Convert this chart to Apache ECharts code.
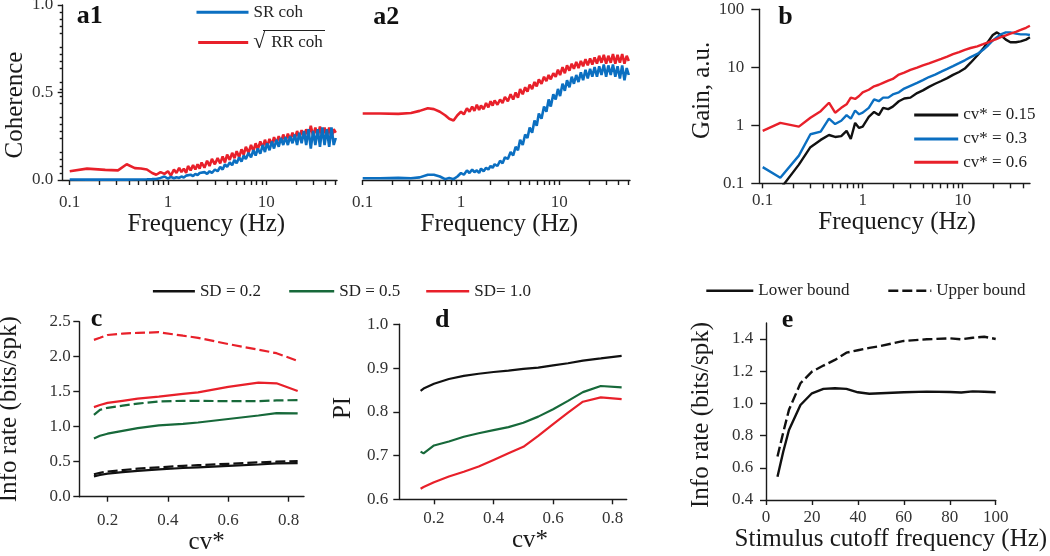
<!DOCTYPE html>
<html><head><meta charset="utf-8">
<script src="https://cdn.jsdelivr.net/npm/echarts@6/dist/echarts.min.js"></script>
<style>html,body{margin:0;padding:0;background:#fff}#chart{width:1050px;height:556px}</style>
</head><body><div id="chart"></div>
<script>
// ---------- DATA ----------
// Panels a1 / a2: coherence vs frequency (Hz)
const freqA = [0.1,0.15,0.23,0.31,0.38,0.46,0.53,0.61,0.69,0.76,
 0.84,0.92,1.0,1.07,1.15,1.22,1.3,1.37,1.45,1.53,
 1.6,1.7,1.8,1.9,2.0,2.1,2.2,2.35,2.5,2.65,
 2.8,3.0,3.2,3.4,3.6,3.8,4.0,4.25,4.5,4.75,
 5.0,5.3,5.6,5.9,6.2,6.6,7.0,7.4,7.8,8.2,
 8.7,9.2,9.7,10.2,10.8,11.4,12.0,12.7,13.4,14.1,
 14.9,15.7,16.6,17.5,18.5,19.5,20.6,21.7,22.9,24.2,
 25.5,26.9,28.4,30.0,31.6,33.4,35.2,37.2,39.2,41.4,
 43.7,46.1,48.6,51.0];
const a1SR = [0.003,0.002,0.002,0.002,0.002,0.003,0.003,0.004,0.005,0.006,
 0.012,0.02,0.008,0.018,0.01,0.016,0.012,0.02,0.014,0.025,
 0.02,0.03,0.022,0.035,0.028,0.04,0.03,0.045,0.035,0.05,
 0.04,0.06,0.05,0.075,0.06,0.09,0.075,0.1,0.085,0.115,
 0.095,0.13,0.105,0.14,0.12,0.155,0.13,0.17,0.14,0.18,
 0.15,0.2,0.16,0.21,0.17,0.22,0.18,0.23,0.19,0.24,
 0.2,0.245,0.2,0.25,0.21,0.26,0.2,0.27,0.21,0.28,
 0.2,0.29,0.18,0.28,0.2,0.29,0.19,0.3,0.2,0.29,
 0.19,0.3,0.2,0.24];
const a1RR = [0.05,0.065,0.058,0.055,0.09,0.068,0.066,0.06,0.04,0.03,
 0.045,0.035,0.05,0.025,0.06,0.04,0.07,0.045,0.065,0.04,
 0.08,0.055,0.085,0.06,0.09,0.065,0.1,0.07,0.11,0.08,
 0.12,0.09,0.125,0.095,0.135,0.1,0.145,0.115,0.155,0.125,
 0.165,0.13,0.175,0.145,0.19,0.155,0.2,0.165,0.21,0.175,
 0.22,0.185,0.23,0.19,0.235,0.2,0.245,0.21,0.25,0.215,
 0.26,0.22,0.265,0.23,0.27,0.235,0.28,0.24,0.285,0.245,
 0.29,0.25,0.31,0.25,0.3,0.25,0.305,0.245,0.3,0.25,
 0.3,0.24,0.29,0.27];
const a2SR = [0.01,0.01,0.012,0.01,0.015,0.03,0.03,0.02,0.005,0.012,
 0.005,0.02,0.04,0.03,0.055,0.04,0.06,0.045,0.055,0.04,
 0.065,0.05,0.07,0.06,0.08,0.07,0.09,0.08,0.11,0.095,
 0.13,0.12,0.16,0.14,0.19,0.17,0.23,0.2,0.26,0.24,
 0.3,0.27,0.34,0.31,0.38,0.35,0.42,0.39,0.46,0.42,
 0.49,0.46,0.52,0.48,0.55,0.51,0.57,0.53,0.59,0.55,
 0.6,0.56,0.615,0.57,0.63,0.58,0.635,0.59,0.645,0.59,
 0.65,0.6,0.66,0.59,0.655,0.6,0.66,0.59,0.65,0.58,
 0.655,0.57,0.64,0.6];
const a2RR = [0.38,0.38,0.378,0.383,0.395,0.41,0.405,0.39,0.37,0.35,
 0.34,0.37,0.39,0.375,0.41,0.39,0.42,0.395,0.43,0.4,
 0.425,0.405,0.44,0.415,0.45,0.425,0.455,0.43,0.46,0.44,
 0.475,0.45,0.49,0.46,0.5,0.47,0.52,0.49,0.53,0.505,
 0.545,0.52,0.56,0.535,0.575,0.55,0.59,0.565,0.6,0.575,
 0.61,0.59,0.63,0.6,0.645,0.61,0.655,0.625,0.665,0.635,
 0.675,0.64,0.68,0.65,0.69,0.655,0.695,0.66,0.7,0.665,
 0.71,0.67,0.715,0.665,0.71,0.67,0.72,0.665,0.715,0.67,
 0.72,0.665,0.71,0.68];

// Panel b: gain vs frequency (Hz)
const freqB = [0.1,0.15,0.23,0.3,0.38,0.46,0.53,0.61,0.69,0.76,
 0.84,0.92,1.0,1.15,1.3,1.45,1.6,1.8,2.0,2.3,
 2.6,3.0,3.5,4.0,4.6,5.3,6.1,7.0,8.0,9.2,
 10.5,12,14,16,18,20,22,24,27,30,
 34,38,43,47];
const gainCv015 = [null,0.08,0.21,0.42,0.56,0.68,0.63,0.65,0.8,0.58,
 1.1,0.9,0.95,1.4,1.7,1.5,2.0,1.9,2.1,2.6,
 2.9,3.0,3.6,4.0,4.6,5.2,5.8,6.5,7.4,8.3,
 9.5,12,16,21,28,36,40,36,30,27,
 27,28,30,33];
const gainCv03 = [0.19,0.125,0.3,0.7,0.78,1.3,1.05,1.2,1.5,1.3,
 1.8,1.55,1.65,2.0,2.8,2.6,3.0,3.0,3.4,3.7,
 4.3,4.8,5.4,6.0,6.8,7.5,8.4,9.4,10.5,11.8,
 13.2,15,17,20,24,29,33,37,40,40,
 38,37,37,36];
const gainCv06 = [0.8,1.1,0.95,1.35,1.75,2.45,1.65,2.0,2.3,3.0,
 2.85,3.2,3.7,4.1,4.7,5.0,5.4,5.9,6.3,7.5,
 8.1,9.0,9.9,10.8,11.7,12.8,14,15.3,16.8,18.3,
 20,21.5,23,25,27,29,31,33,35.5,38,
 41,44,48,52];

// Panel c: info rate vs cv*
const cvC = [0.155,0.175,0.2,0.25,0.3,0.37,0.45,0.5,0.6,0.7,0.76,0.83];
const infoLowSD02 = [0.29,0.31,0.33,0.35,0.37,0.39,0.41,0.42,0.44,0.46,0.475,0.48];
const infoUpSD02  = [0.32,0.34,0.36,0.38,0.40,0.42,0.44,0.45,0.47,0.49,0.50,0.51];
const infoLowSD05 = [0.83,0.87,0.90,0.94,0.98,1.02,1.04,1.06,1.11,1.16,1.195,1.19];
const infoUpSD05  = [1.17,1.24,1.27,1.30,1.33,1.36,1.37,1.37,1.365,1.365,1.375,1.38];
const infoLowSD10 = [1.28,1.31,1.34,1.37,1.40,1.43,1.47,1.49,1.57,1.63,1.62,1.51];
const infoUpSD10  = [2.24,2.27,2.31,2.33,2.34,2.35,2.30,2.27,2.18,2.10,2.05,1.94];

// Panel d: PI vs cv*
const cvD = [0.155,0.165,0.2,0.25,0.3,0.35,0.4,0.45,0.5,0.55,0.6,0.65,0.7,0.76,0.83];
const piSD02 = [0.848,0.853,0.864,0.875,0.882,0.887,0.891,0.894,0.898,0.901,0.906,0.911,0.917,0.922,0.928];
const piSD05 = [0.709,0.705,0.723,0.732,0.743,0.751,0.758,0.765,0.775,0.789,0.806,0.825,0.845,0.859,0.856];
const piSD10 = [0.624,0.628,0.639,0.652,0.663,0.675,0.690,0.705,0.720,0.745,0.772,0.798,0.823,0.833,0.829];

// Panel e: info rate vs stimulus cutoff frequency (Hz)
const cutoff = [5,7.5,10,15,20,25,30,35,40,45,50,60,70,80,85,90,95,100];
const lowerBound = [0.545,0.70,0.835,0.99,1.063,1.09,1.094,1.09,1.069,1.06,1.063,1.069,1.073,1.071,1.068,1.075,1.072,1.069];
const upperBound = [0.67,0.82,0.96,1.125,1.197,1.235,1.27,1.315,1.33,1.345,1.357,1.388,1.398,1.404,1.398,1.408,1.414,1.40];

// Tick labels
const logMajorTicks = [0.1, 1, 10];
const logMinorTicks = [0.2,0.3,0.4,0.5,0.6,0.7,0.8,0.9,2,3,4,5,6,7,8,9,20,30,40,50];
const gainTicks = [0.1, 1, 10, 100];
const cvTicks = [0.2, 0.4, 0.6, 0.8];
const eYTicks = [0.4, 0.6, 0.8, 1.0, 1.2, 1.4];

// ---------- STYLE ----------
const FONT = 'Liberation Serif';
const BLUE = '#0b6fc1', RED = '#e8202a', GREEN = '#17693a', BLACK = '#111111';
const AX = { color: '#1a1a1a', width: 1.4 };
const lg = Math.log10;
const labelStyle = (margin) => ({ fontFamily: FONT, fontSize: 17, color: '#333', margin });
const nameStyle = (pad) => ({ fontFamily: FONT, fontSize: 25, color: '#1a1a1a', padding: pad });
const logFmt = (v) => { const p = Math.round(v); return p < 0 ? Math.pow(10, p).toFixed(-p) : String(Math.round(Math.pow(10, p))); };

function logX(grid, min, max, name, gap, pad, margin) {
  const major = logMajorTicks.map(lg);
  const all = major.concat(logMinorTicks.map(lg)).filter(v => v <= max + 1e-9);
  return {
    type: 'value', gridIndex: grid, min, max,
    axisLine: { show: true, lineStyle: AX, onZero: false },
    axisTick: { show: true, length: 5, lineStyle: AX, customValues: all },
    axisLabel: Object.assign(labelStyle(margin), { customValues: major, formatter: logFmt }),
    splitLine: { show: false },
    name, nameLocation: 'middle', nameGap: gap, nameTextStyle: nameStyle(pad)
  };
}
function linX(grid, min, max, ticks, name, gap, pad, margin, fmt) {
  return {
    type: 'value', gridIndex: grid, min, max,
    axisLine: { show: true, lineStyle: AX, onZero: false },
    axisTick: { show: true, length: 5, lineStyle: AX, customValues: ticks },
    axisLabel: Object.assign(labelStyle(margin), { customValues: ticks, formatter: fmt }),
    splitLine: { show: false },
    name, nameLocation: 'middle', nameGap: gap, nameTextStyle: nameStyle(pad)
  };
}
function linY(grid, min, max, ticks, name, gap, pad, margin, fmt, tickLen, minor) {
  return {
    type: 'value', gridIndex: grid, min, max,
    axisLine: { show: true, lineStyle: AX, onZero: false },
    axisTick: { show: true, length: tickLen, lineStyle: AX, customValues: ticks },
    minorTick: minor ? { show: true, splitNumber: 5, length: 3, lineStyle: AX } : { show: false },
    axisLabel: Object.assign(labelStyle(margin), { customValues: ticks, formatter: fmt }),
    splitLine: { show: false },
    name, nameLocation: 'middle', nameRotate: 90, nameGap: gap, nameTextStyle: nameStyle(pad)
  };
}
const f1 = (v) => v.toFixed(1);

function line(name, xi, xs, ys, color, width, dashed, fx, fy) {
  fx = fx || (v => v); fy = fy || (v => v);
  return {
    type: 'line', name, xAxisIndex: xi, yAxisIndex: xi,
    data: xs.map((x, i) => [fx(x), ys[i] == null ? null : fy(ys[i])]),
    showSymbol: false, symbol: 'none', clip: true, animation: false,
    lineStyle: { color, width, type: dashed ? [10, 4] : 'solid' },
    itemStyle: { color }
  };
}
function leg(name, left, cy, w, extra) {
  return Object.assign({
    data: [name], left, top: cy - 8.5, itemWidth: w, itemHeight: 17, padding: 0,
    selectedMode: false, orient: 'horizontal',
    itemStyle: { opacity: 0 },
    lineStyle: { width: 3 },
    textStyle: { fontFamily: FONT, fontSize: 17, color: '#222' }
  }, extra || {});
}
function letter(t, x, y) {
  return { type: 'text', x, y, style: { text: t, fontFamily: FONT, fontSize: 26, fontWeight: 'bold', fill: '#111', align: 'left', verticalAlign: 'middle' } };
}

const option = {
  animation: false,
  backgroundColor: '#fff',
  grid: [
    { left: 62.7, top: 5, width: 274.3, height: 175, outerBoundsMode: 'none' },
    { left: 362.7, top: 5, width: 267.3, height: 175, outerBoundsMode: 'none' },
    { left: 759.3, top: 9.3, width: 270.7, height: 174, outerBoundsMode: 'none' },
    { left: 79.3, top: 321.7, width: 224.7, height: 175, outerBoundsMode: 'none' },
    { left: 399.3, top: 324.3, width: 227.4, height: 175, outerBoundsMode: 'none' },
    { left: 766, top: 322.9, width: 229.7, height: 177.1, outerBoundsMode: 'none' }
  ],
  xAxis: [
    logX(0, -1.0714, 1.72, 'Frequency (Hz)', 28.8, [0, 0, 0, 13], 14),
    logX(1, -1, 1.72, 'Frequency (Hz)', 28.8, [0, 0, 0, 6], 14),
    logX(2, -1.034, 1.673, 'Frequency (Hz)', 25.5, [0, 0, 0, 5], 9),
    linX(3, 0.1065, 0.851, cvTicks, 'cv*', 25, [0, 0, 0, 30], 15.5, f1),
    linX(4, 0.0835, 0.847, cvTicks, 'cv*', 17, [0, 0, 0, 34], 10.5, f1),
    linX(5, 0, 100, [0, 20, 40, 60, 80, 100], 'Stimulus cutoff frequency (Hz)', 22, [0, 0, 0, 20], 9.5, v => String(v))
  ],
  yAxis: [
    linY(0, 0, 1, [0, 0.5, 1], 'Coherence', 33.7, [0, 25, 0, 0], 9.4, f1, 5, true),
    { type: 'value', gridIndex: 1, min: 0, max: 1, show: false },
    linY(2, -1, 2, gainTicks.map(lg), 'Gain, a.u.', 37, [0, 0, 0, 12], 15, logFmt, 8, false),
    linY(3, 0, 2.5, [0, 0.5, 1, 1.5, 2, 2.5], 'Info rate (bits/spk)', 57, [0, 0, 0, 0], 8.6, f1, 6, false),
    linY(4, 0.6, 1.0, [0.6, 0.7, 0.8, 0.9, 1.0], 'PI', 43.8, [0, 0, 0, 7.6], 11, f1, 6, false),
    linY(5, 0.4, 1.5, eYTicks, 'Info rate (bits/spk)', 52, [0, 7, 0, 0], 12.7, f1, 6, false)
  ],
  legend: [
    leg('SR coh', 195, 12.3, 52),
    leg('RR coh', 196.7, 40, 50, {
      formatter: () => '{s|√}{t|RR coh}',
      textStyle: { fontFamily: FONT, fontSize: 17, color: '#222',
        rich: { s: { fontFamily: FONT, fontSize: 22, color: '#222', padding: [0, 6, 0, 0] },
                t: { fontFamily: FONT, fontSize: 17, color: '#222' } } }
    }),
    leg('cv* = 0.15', 912.7, 115, 44),
    leg('cv* = 0.3', 912.7, 139, 44),
    leg('cv* = 0.6', 912.7, 162.3, 44),
    leg('SD = 0.2', 151.7, 291.3, 42, { lineStyle: { width: 2.4 } }),
    leg('SD = 0.5', 288, 291.3, 45, { lineStyle: { width: 2.4 } }),
    leg('SD= 1.0', 425, 291.3, 43, { lineStyle: { width: 2.4 } }),
    leg('Lower bound', 705, 290.7, 47, { lineStyle: { width: 2.6 } }),
    leg('Upper bound', 887, 290.7, 43, { lineStyle: { width: 2.6 } })
  ],
  graphic: [
    letter('a1', 76.7, 16),
    letter('a2', 373.3, 17),
    letter('b', 778.3, 17.7),
    letter('c', 90.7, 319),
    letter('d', 435, 320.3),
    letter('e', 781.7, 320.3),
    { type: 'line', shape: { x1: 263, y1: 30.5, x2: 325, y2: 30.5 }, style: { stroke: '#222', lineWidth: 1 } }
  ],
  series: [
    line('RR coh', 0, freqA, a1RR, RED, 2.6, false, lg),
    line('SR coh', 0, freqA, a1SR, BLUE, 2.6, false, lg),
    line('RR coh', 1, freqA, a2RR, RED, 2.6, false, lg),
    line('SR coh', 1, freqA, a2SR, BLUE, 2.6, false, lg),
    line('cv* = 0.15', 2, freqB, gainCv015, BLACK, 2.4, false, lg, lg),
    line('cv* = 0.3', 2, freqB, gainCv03, BLUE, 2.4, false, lg, lg),
    line('cv* = 0.6', 2, freqB, gainCv06, RED, 2.4, false, lg, lg),
    line('SD = 0.2', 3, cvC, infoLowSD02, BLACK, 2.2, false),
    line('SD = 0.2 upper', 3, cvC, infoUpSD02, BLACK, 2.2, true),
    line('SD = 0.5', 3, cvC, infoLowSD05, GREEN, 2.2, false),
    line('SD = 0.5 upper', 3, cvC, infoUpSD05, GREEN, 2.2, true),
    line('SD= 1.0', 3, cvC, infoLowSD10, RED, 2.2, false),
    line('SD= 1.0 upper', 3, cvC, infoUpSD10, RED, 2.2, true),
    line('SD = 0.2', 4, cvD, piSD02, BLACK, 2.2, false),
    line('SD = 0.5', 4, cvD, piSD05, GREEN, 2.2, false),
    line('SD= 1.0', 4, cvD, piSD10, RED, 2.2, false),
    line('Lower bound', 5, cutoff, lowerBound, BLACK, 2.4, false),
    line('Upper bound', 5, cutoff, upperBound, BLACK, 2.4, true)
  ]
};

const chart = echarts.init(document.getElementById('chart'), null, { renderer: 'canvas' });
chart.setOption(option);
</script></body></html>
